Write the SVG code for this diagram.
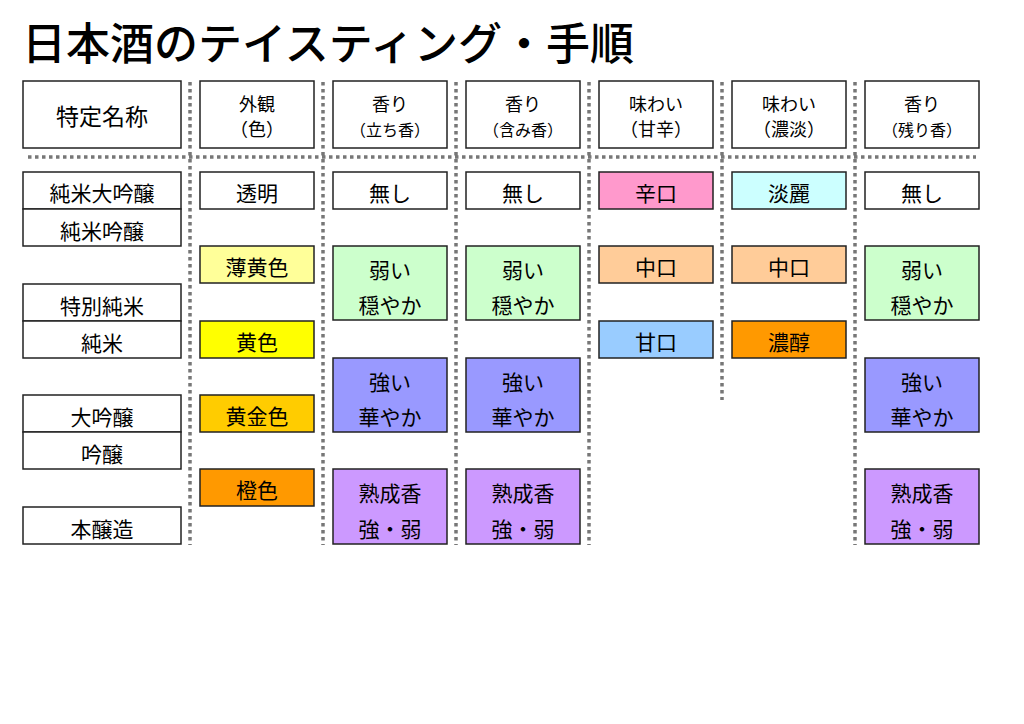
<svg xmlns="http://www.w3.org/2000/svg" width="1024" height="724" viewBox="0 0 1024 724">
<style>
text{font-family:"Noto Sans CJK JP","Noto Sans CJK SC",sans-serif;fill:#000;text-anchor:middle}
.b{stroke:#222;stroke-width:1.5}
.t{font-size:21px}
.h{font-size:18px}
.s{font-size:16px}
.d{stroke:#777;stroke-width:3.5;stroke-dasharray:3.5 3.5;fill:none}
</style>
<rect width="1024" height="724" fill="#fff"/>
<text x="22" y="60" style="font-size:44px;text-anchor:start;font-weight:500">日本酒のテイスティング・手順</text>
<g id="connectors">
<path class="d" d="M28 157H976M190 82V545M323 82V545M456 82V545M589 82V545M722 82V400M855 82V545"/>
</g>
<g id="headers">
<rect class="b" x="23" y="81" width="158" height="67" fill="#fff"/><text x="102" y="125" style="font-size:23px">特定名称</text>
<rect class="b" x="200" y="81" width="114" height="67" fill="#fff"/><text x="257" y="111" class="h">外観</text><text x="257" y="136" class="h">（色）</text>
<rect class="b" x="333" y="81" width="114" height="67" fill="#fff"/><text x="390" y="111" class="h">香り</text><text x="390" y="136" class="s">（立ち香）</text>
<rect class="b" x="466" y="81" width="114" height="67" fill="#fff"/><text x="523" y="111" class="h">香り</text><text x="523" y="136" class="s">（含み香）</text>
<rect class="b" x="599" y="81" width="114" height="67" fill="#fff"/><text x="656" y="111" class="h">味わい</text><text x="656" y="136" class="h">（甘辛）</text>
<rect class="b" x="732" y="81" width="114" height="67" fill="#fff"/><text x="789" y="111" class="h">味わい</text><text x="789" y="136" class="h">（濃淡）</text>
<rect class="b" x="865" y="81" width="114" height="67" fill="#fff"/><text x="922" y="111" class="h">香り</text><text x="922" y="136" class="s">（残り香）</text>
</g>
<g id="names">
<rect class="b" x="23" y="172" width="158" height="37" fill="#fff"/><text x="102" y="201" class="t">純米大吟醸</text>
<rect class="b" x="23" y="209" width="158" height="37" fill="#fff"/><text x="102" y="239" class="t">純米吟醸</text>
<rect class="b" x="23" y="284" width="158" height="37" fill="#fff"/><text x="102" y="314" class="t">特別純米</text>
<rect class="b" x="23" y="321" width="158" height="37" fill="#fff"/><text x="102" y="351" class="t">純米</text>
<rect class="b" x="23" y="395" width="158" height="37" fill="#fff"/><text x="102" y="425" class="t">大吟醸</text>
<rect class="b" x="23" y="432" width="158" height="37" fill="#fff"/><text x="102" y="462" class="t">吟醸</text>
<rect class="b" x="23" y="507" width="158" height="37" fill="#fff"/><text x="102" y="537" class="t">本醸造</text>
</g>
<g id="appearance">
<rect class="b" x="200" y="172" width="114" height="37" fill="#fff"/><text x="257" y="201" class="t">透明</text>
<rect class="b" x="200" y="246" width="114" height="37" fill="#ffff99"/><text x="257" y="275" class="t">薄黄色</text>
<rect class="b" x="200" y="321" width="114" height="37" fill="#ffff00"/><text x="257" y="350" class="t">黄色</text>
<rect class="b" x="200" y="395" width="114" height="37" fill="#ffcc00"/><text x="257" y="424" class="t">黄金色</text>
<rect class="b" x="200" y="469" width="114" height="37" fill="#ff9900"/><text x="257" y="498" class="t">橙色</text>
</g>
<g id="aroma-cols">
<rect class="b" x="333" y="172" width="114" height="37" fill="#fff"/><text x="390" y="201" class="t">無し</text>
<rect class="b" x="333" y="246" width="114" height="74" fill="#ccffcc"/><text x="390" y="278" class="t">弱い</text><text x="390" y="313" class="t">穏やか</text>
<rect class="b" x="333" y="358" width="114" height="74" fill="#9999ff"/><text x="390" y="390" class="t">強い</text><text x="390" y="425" class="t">華やか</text>
<rect class="b" x="333" y="469" width="114" height="75" fill="#cc99ff"/><text x="390" y="501" class="t">熟成香</text><text x="390" y="537" class="t">強・弱</text>
<rect class="b" x="466" y="172" width="114" height="37" fill="#fff"/><text x="523" y="201" class="t">無し</text>
<rect class="b" x="466" y="246" width="114" height="74" fill="#ccffcc"/><text x="523" y="278" class="t">弱い</text><text x="523" y="313" class="t">穏やか</text>
<rect class="b" x="466" y="358" width="114" height="74" fill="#9999ff"/><text x="523" y="390" class="t">強い</text><text x="523" y="425" class="t">華やか</text>
<rect class="b" x="466" y="469" width="114" height="75" fill="#cc99ff"/><text x="523" y="501" class="t">熟成香</text><text x="523" y="537" class="t">強・弱</text>
<rect class="b" x="865" y="172" width="114" height="37" fill="#fff"/><text x="922" y="201" class="t">無し</text>
<rect class="b" x="865" y="246" width="114" height="74" fill="#ccffcc"/><text x="922" y="278" class="t">弱い</text><text x="922" y="313" class="t">穏やか</text>
<rect class="b" x="865" y="358" width="114" height="74" fill="#9999ff"/><text x="922" y="390" class="t">強い</text><text x="922" y="425" class="t">華やか</text>
<rect class="b" x="865" y="469" width="114" height="75" fill="#cc99ff"/><text x="922" y="501" class="t">熟成香</text><text x="922" y="537" class="t">強・弱</text>
</g>
<g id="taste">
<rect class="b" x="599" y="172" width="114" height="37" fill="#ff99cc"/><text x="656" y="201" class="t">辛口</text>
<rect class="b" x="599" y="246" width="114" height="37" fill="#ffcc99"/><text x="656" y="275" class="t">中口</text>
<rect class="b" x="599" y="321" width="114" height="37" fill="#99ccff"/><text x="656" y="350" class="t">甘口</text>
<rect class="b" x="732" y="172" width="114" height="37" fill="#ccffff"/><text x="789" y="201" class="t">淡麗</text>
<rect class="b" x="732" y="246" width="114" height="37" fill="#ffcc99"/><text x="789" y="275" class="t">中口</text>
<rect class="b" x="732" y="321" width="114" height="37" fill="#ff9900"/><text x="789" y="350" class="t">濃醇</text>
</g>
</svg>
